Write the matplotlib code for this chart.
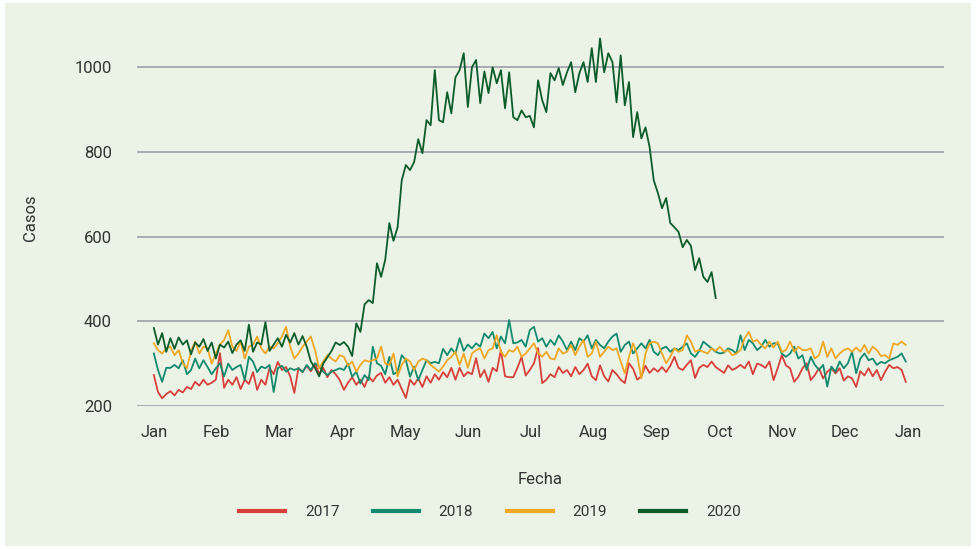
import numpy as np
import matplotlib.pyplot as plt
from matplotlib.patches import Rectangle

plt.rcParams['font.family'] = ['Roboto', 'DejaVu Sans']

# day of year (0 = 1 Jan), one reading every second day
days_full = np.arange(0, 365, 2)
days_2020 = np.arange(0, 273, 2)

casos_2017 = [
    273, 233, 218, 228, 235, 225, 238, 232, 245, 240, 257, 248, 262, 250, 255, 262,
    325, 243, 262, 250, 268, 240, 262, 252, 280, 238, 262, 250, 290, 275,
    304, 285, 292, 270, 231, 290, 280, 295, 282, 300, 276, 290, 268, 285, 275, 261,
    238, 255, 268, 250, 262, 245, 270, 258, 272, 278, 255, 268, 250, 262, 240,
    219, 262, 250, 265, 245, 270, 255, 275, 262, 280, 268, 290, 262, 290, 270,
    280, 275, 313, 268, 285, 257, 290, 282, 332, 270, 268, 268, 290, 316, 272,
    285, 301, 337, 254, 262, 275, 268, 292, 278, 285, 270, 292, 275, 285, 300,
    270, 261, 296, 270, 258, 285, 275, 262, 254, 301, 288, 262, 270, 295, 278,
    289, 281, 292, 280, 295, 316, 290, 285, 297, 308, 266, 290, 297, 292, 305,
    292, 285, 278, 296, 285, 290, 297, 289, 305, 275, 300, 297, 290, 305, 261,
    289, 320, 296, 289, 257, 269, 289, 301, 261, 273, 289, 265, 281, 289, 277,
    289, 260, 270, 265, 245, 282, 272, 289, 270, 285, 261, 281, 297, 289, 292, 285, 257,
]

casos_2018 = [
    324, 285, 257, 290, 290, 297, 289, 308, 275, 285, 312, 289, 308, 292, 275, 289,
    301, 270, 300, 285, 292, 297, 261, 316, 305, 280, 293, 289, 297, 233,
    289, 295, 281, 289, 285, 289, 280, 297, 285, 301, 293, 281, 273, 281, 285, 289,
    285, 300, 269, 281, 253, 273, 261, 340, 301, 295, 275, 316, 275, 281, 320,
    308, 269, 293, 261, 285, 308, 301, 304, 301, 335, 320, 336, 324, 360, 330,
    345, 336, 348, 340, 371, 360, 375, 336, 364, 348, 403, 348, 350, 356, 340,
    379, 387, 352, 360, 340, 356, 344, 367, 352, 332, 352, 332, 360, 352, 367,
    336, 356, 344, 336, 352, 364, 371, 328, 344, 352, 324, 336, 348, 336, 356,
    328, 320, 336, 340, 328, 336, 332, 340, 348, 324, 316, 330, 352, 344, 336,
    328, 324, 326, 336, 332, 324, 367, 332, 356, 348, 332, 340, 356, 340, 348,
    348, 324, 316, 324, 340, 312, 320, 285, 316, 297, 285, 297, 246, 293, 281,
    305, 289, 301, 328, 277, 312, 324, 308, 312, 297, 304, 301, 308, 312, 316, 324, 305,
]

casos_2019 = [
    348, 332, 324, 336, 340, 320, 332, 301, 289, 330, 352, 324, 340, 336, 300, 324,
    345, 356, 379, 340, 330, 352, 312, 340, 345, 364, 336, 324, 340, 336,
    348, 364, 387, 340, 312, 324, 340, 352, 364, 332, 289, 305, 320, 312, 305, 320,
    316, 295, 305, 281, 297, 308, 305, 308, 312, 340, 300, 297, 324, 270, 297,
    312, 305, 285, 305, 312, 308, 297, 289, 281, 293, 308, 316, 328, 297, 324,
    290, 324, 332, 336, 312, 332, 336, 367, 328, 316, 332, 328, 340, 316, 324,
    336, 348, 325, 316, 328, 312, 310, 336, 324, 328, 344, 320, 340, 356, 316,
    324, 352, 316, 328, 340, 332, 336, 305, 277, 316, 348, 320, 265, 324, 348,
    352, 348, 324, 301, 316, 336, 328, 332, 367, 352, 328, 332, 328, 324, 336,
    330, 340, 328, 332, 320, 324, 332, 360, 375, 352, 356, 344, 336, 352, 338,
    352, 328, 332, 352, 328, 340, 332, 332, 336, 312, 320, 352, 316, 336, 312,
    324, 332, 336, 328, 338, 328, 344, 324, 340, 332, 318, 320, 312, 348, 344, 352, 344,
]

casos_2020 = [
    384, 345, 372, 328, 360, 335, 362, 345, 355, 322, 350, 340, 358, 330, 350, 312,
    345, 338, 352, 325, 345, 355, 330, 392, 328, 350, 345, 398, 330, 345,
    360, 340, 368, 350, 372, 345, 365, 340, 305, 290, 270, 300, 315, 330, 350, 344,
    351, 340, 318, 395, 375, 440, 450, 443, 537, 505, 545, 632, 590, 622, 733,
    769, 757, 776, 830, 797, 875, 863, 993, 875, 870, 941, 891, 976, 993, 1033,
    906, 1000, 1017, 915, 990, 939, 1000, 962, 993, 903, 988, 882, 875, 898, 882,
    885, 858, 969, 922, 894, 986, 969, 998, 958, 988, 1012, 941, 986, 1012, 965,
    1045, 965, 1068, 988, 1033, 1012, 917, 1028, 910, 965, 835, 894, 832, 858, 811,
    733, 703, 667, 691, 632, 622, 611, 575, 592, 578, 521, 549, 505, 493, 516, 455,
]

month_labels = ['Jan', 'Feb', 'Mar', 'Apr', 'May', 'Jun', 'Jul',
                'Aug', 'Sep', 'Oct', 'Nov', 'Dec', 'Jan']

colors = {'2017': '#d8403b', '2018': '#118a6e', '2019': '#f0a824', '2020': '#0b5c2b'}
bg = '#ebf2e6'
txt = '#333333'

fig = plt.figure(figsize=(9.78, 5.49), dpi=100, facecolor='white')
fig.patches.append(Rectangle((5 / 978, 3 / 549), 966 / 978, 543 / 549,
                             transform=fig.transFigure, facecolor=bg,
                             edgecolor='none', zorder=-1))
ax = fig.add_axes([0.140, 0.2605, 0.825, 0.6865])
ax.set_facecolor(bg)

ax.plot(days_full, casos_2017, color=colors['2017'], lw=1.3, label='2017')
ax.plot(days_full, casos_2018, color=colors['2018'], lw=1.3, label='2018')
ax.plot(days_full, casos_2019, color=colors['2019'], lw=1.3, label='2019')
ax.plot(days_2020, casos_2020, color=colors['2020'], lw=1.3, label='2020')

ax.set_xlim(-8.2, 382.4)
ax.set_ylim(200, 1090)
ax.set_yticks([200, 400, 600, 800, 1000])
ax.set_xticks(np.linspace(0, 365, 13))
ax.set_xticklabels(month_labels)
ax.tick_params(axis='both', length=0, labelsize=12, labelcolor=txt)
ax.tick_params(axis='y', pad=18)
ax.tick_params(axis='x', pad=14)
ax.grid(axis='y', color='#a9abb1', lw=1.4)
ax.set_axisbelow(True)
for s in ax.spines.values():
    s.set_visible(False)

ax.set_ylabel('Casos', fontsize=12, color=txt, labelpad=26)
ax.set_xlabel('Fecha', fontsize=12, color=txt, labelpad=23)

leg = fig.legend(loc='center', bbox_to_anchor=(490 / 978, 1 - 512 / 549), ncol=4,
                 frameon=False, fontsize=11, handlelength=3.0, handletextpad=1.3,
                 columnspacing=2.2)
for line in leg.get_lines():
    line.set_linewidth(3)
for t in leg.get_texts():
    t.set_color(txt)

fig.savefig('out.png', dpi=100, facecolor='white')
